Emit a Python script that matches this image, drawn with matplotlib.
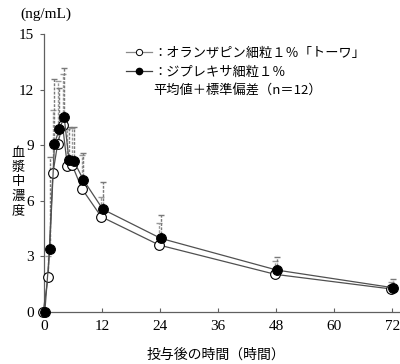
#
# Plasma concentration after a single dose: olanzapine 1% granules (Towa)
# vs Zyprexa 1% granules, mean + SD, n=12.
#

import matplotlib
matplotlib.use('Agg')
import matplotlib.pyplot as plt
import matplotlib.transforms as mtransforms
from matplotlib.lines import Line2D

times = [0, 1, 2, 3, 4, 5, 6, 8, 12, 24, 48, 72]

towa_mean = [0, 1.87, 7.48, 9.09, 10.08, 7.87, 7.92, 6.65, 5.14, 3.61, 2.03, 1.24]
towa_sd = [0, 1.13, 3.42, 3.40, 2.75, 2.03, 2.03, 1.80, 1.06, 1.17, 0.72, 0.36]

zyprexa_mean = [0, 3.38, 9.09, 9.85, 10.53, 8.19, 8.14, 7.12, 5.54, 3.97, 2.26, 1.31]
zyprexa_sd = [0, 5.00, 3.47, 2.25, 2.62, 1.81, 1.86, 1.48, 1.46, 1.26, 0.72, 0.47]

xticks = [0, 12, 24, 36, 48, 60, 72]
yticks = [0, 3, 6, 9, 12, 15]

label_towa = '：オランザピン細粒１％「トーワ」'
label_zyprexa = '：ジプレキサ細粒１％'
label_note = '平均値＋標準偏差（n＝12）'

JP = ['Noto Sans CJK JP', 'DejaVu Sans']
SERIF = ['Liberation Serif', 'DejaVu Serif']


def main():
    fig = plt.figure(figsize=(4.0, 3.64), dpi=100)
    ax = fig.add_axes([0.11, 0.1429, 0.89, 0.7637])

    # open circles sit a hair left of the filled ones
    shift_l = mtransforms.offset_copy(ax.transData, fig=fig, x=-0.8, y=0, units='dots')
    shift_r = mtransforms.offset_copy(ax.transData, fig=fig, x=0.8, y=0, units='dots')

    zero = [0] * len(times)

    ax.errorbar(times, towa_mean, yerr=[zero, towa_sd], fmt='none',
                ecolor='#9a9a9a', elinewidth=1.0, capsize=2.5, capthick=1.0,
                transform=shift_l, clip_on=False, zorder=2)
    ax.errorbar(times, zyprexa_mean, yerr=[zero, zyprexa_sd], fmt='none',
                ecolor='#7a7a7a', elinewidth=1.0, capsize=2.5, capthick=1.0,
                transform=shift_r, clip_on=False, zorder=2)
    for coll in ax.collections:
        coll.set_linestyle((0, (2, 1)))

    ax.plot(times, towa_mean, color='#505050', linewidth=0.9,
            marker='o', markersize=7, markerfacecolor='white',
            markeredgecolor='black', markeredgewidth=0.8,
            transform=shift_l, clip_on=False, zorder=3)
    ax.plot(times, zyprexa_mean, color='#505050', linewidth=0.9,
            marker='o', markersize=7, markerfacecolor='black',
            markeredgecolor='black', markeredgewidth=0.8,
            transform=shift_r, clip_on=False, zorder=4)

    ax.set_xlim(0, 73.6)
    ax.set_ylim(0, 15)
    ax.set_xticks(xticks)
    ax.set_yticks(yticks)
    ax.spines['top'].set_visible(False)
    ax.spines['right'].set_visible(False)
    for s in ('left', 'bottom'):
        ax.spines[s].set_color('#606060')
        ax.spines[s].set_linewidth(0.9)
    ax.tick_params(axis='x', direction='in', length=3, color='#606060', pad=6)
    ax.tick_params(axis='y', direction='out', length=3, color='#606060', pad=4)
    for t in ax.get_xticklabels() + ax.get_yticklabels():
        t.set_family(SERIF)
        t.set_fontsize(11)

    fig.text(0.05, 0.962, '(ng/mL)', family=SERIF, fontsize=11,
             ha='left', va='center')
    fig.text(0.045, 0.5, '\n'.join('血漿中濃度'), family=JP, fontsize=9.5,
             ha='center', va='center', linespacing=1.12)
    fig.text(0.54, 0.025, '投与後の時間（時間）', family=JP, fontsize=10,
             ha='center', va='center')

    handles = [
        Line2D([], [], color='#8a8a8a', linewidth=0.9, marker='o',
               markersize=4.5, markerfacecolor='white', markeredgecolor='black',
               markeredgewidth=0.7),
        Line2D([], [], color='#404040', linewidth=0.9, marker='o',
               markersize=4.5, markerfacecolor='black', markeredgecolor='black'),
        Line2D([], [], color='none'),
    ]
    ax.legend(handles, [label_towa, label_zyprexa, label_note],
              loc='upper left', bbox_to_anchor=(0.315, 0.872),
              bbox_transform=fig.transFigure, frameon=False,
              prop={'family': JP, 'size': 9.5}, handlelength=2.0,
              handletextpad=0.1, borderpad=0, borderaxespad=0,
              labelspacing=0.45)

    fig.savefig('out.png', dpi=100)


if __name__ == '__main__':
    main()
